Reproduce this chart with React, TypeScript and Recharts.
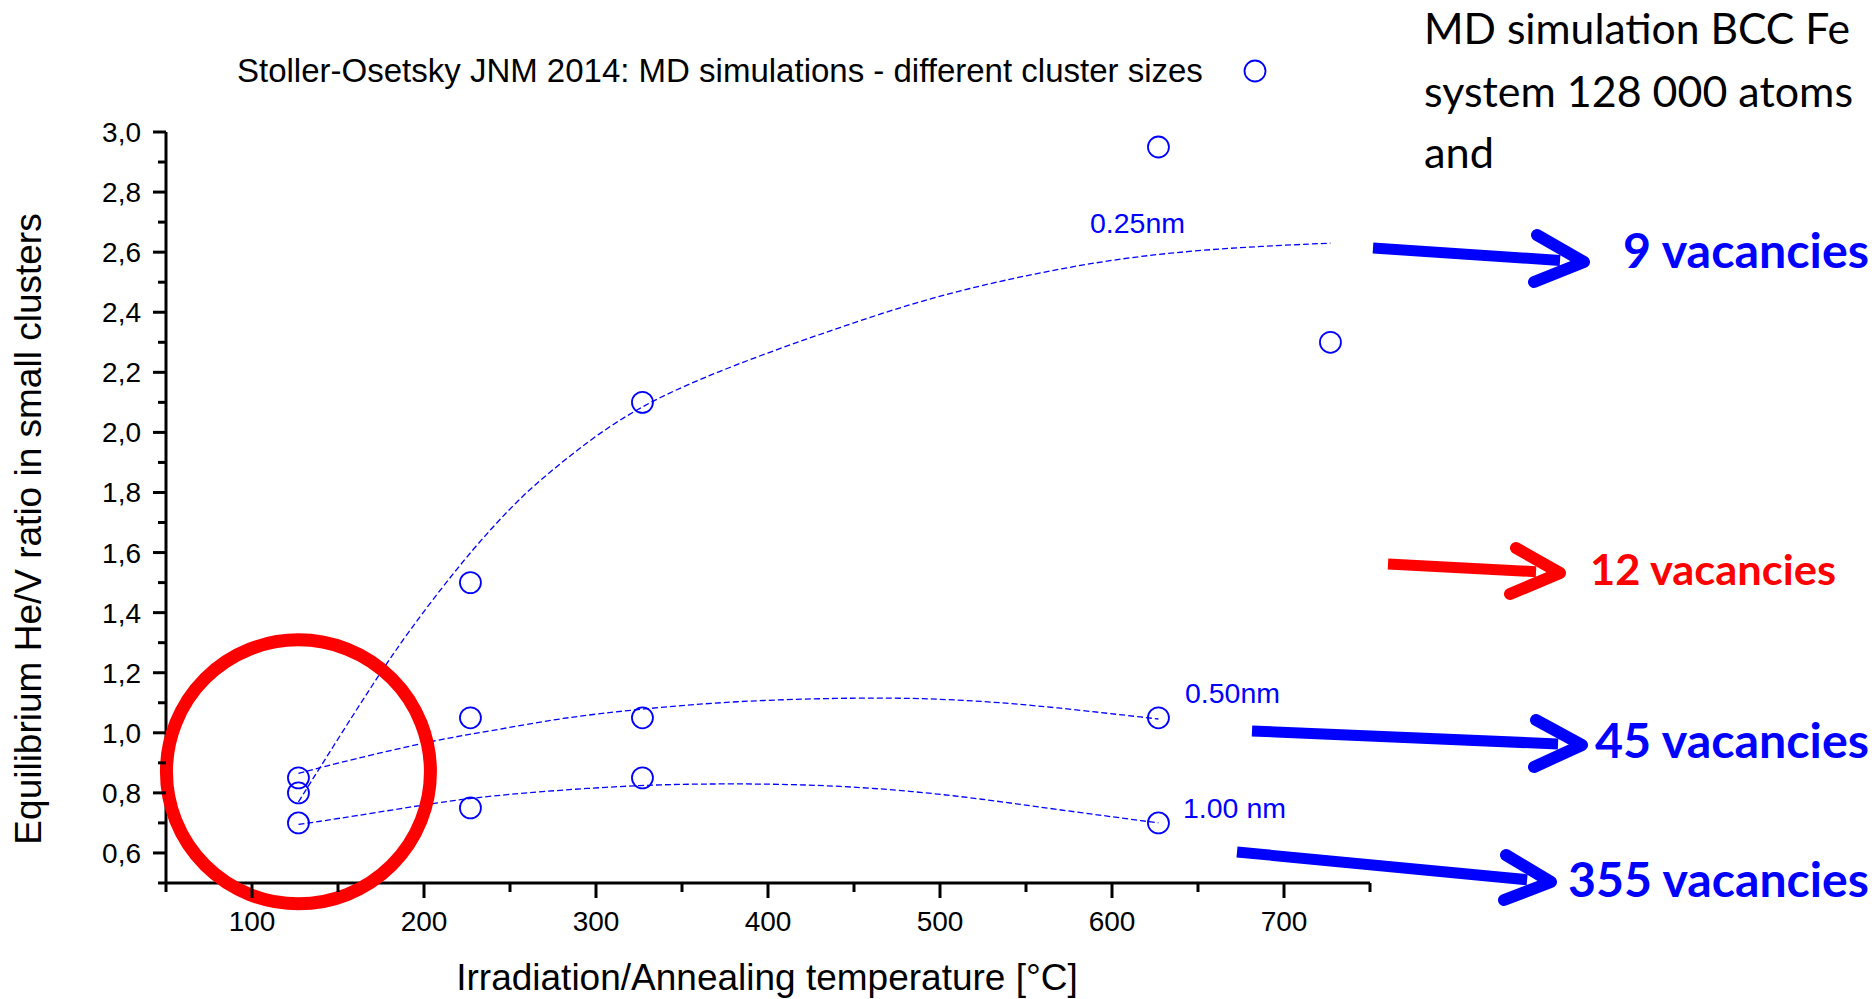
import React from 'react'
import {
  ComposedChart,
  Scatter,
  Line,
  XAxis,
  YAxis,
  ReferenceDot,
} from 'recharts'

// MD points (Stoller-Osetsky JNM 2014)
const tempC = [127, 127, 127, 227, 227, 227, 327, 327, 327, 627, 627, 627, 727]
const heRatio = [0.85, 0.8, 0.7, 1.5, 1.05, 0.75, 2.1, 1.05, 0.85, 2.95, 1.05, 0.7, 2.3]

// fit curves
const fit025X = [127, 150, 170, 190, 218, 239, 259, 280, 300, 327, 361, 402, 442, 484, 524, 565, 606, 647, 687, 727]
const fit025Y = [0.77, 0.98, 1.16, 1.33, 1.54, 1.68, 1.8, 1.9, 1.99, 2.09, 2.18, 2.27, 2.35, 2.43, 2.49, 2.54, 2.58, 2.605, 2.62, 2.63]
const fit050X = [127, 157, 210, 239, 280, 327, 381, 442, 484, 524, 565, 627]
const fit050Y = [0.865, 0.91, 0.98, 1.006, 1.05, 1.08, 1.106, 1.116, 1.116, 1.106, 1.086, 1.046]
const fit100X = [127, 157, 210, 239, 280, 327, 361, 402, 442, 484, 524, 565, 627]
const fit100Y = [0.695, 0.72, 0.77, 0.79, 0.81, 0.826, 0.83, 0.83, 0.823, 0.806, 0.78, 0.747, 0.7]

const xTicks = [50, 100, 150, 200, 250, 300, 350, 400, 450, 500, 550, 600, 650, 700, 750]
const yTicks = [0.5, 0.6, 0.7, 0.8, 0.9, 1.0, 1.1, 1.2, 1.3, 1.4, 1.5, 1.6, 1.7, 1.8, 1.9, 2.0, 2.1, 2.2, 2.3, 2.4, 2.5, 2.6, 2.7, 2.8, 2.9, 3.0]

const BLUE = '#0000FF'
const RED = '#FF0000'
const FONT = '"Liberation Sans", Arial, sans-serif'
const CAL = 'Lato, "Open Sans", sans-serif'

const toRows = (xs: number[], ys: number[]) => xs.map((x, i) => ({ x, y: ys[i] }))

const points = toRows(tempC, heRatio)
const fit025 = toRows(fit025X, fit025Y)
const fit050 = toRows(fit050X, fit050Y)
const fit100 = toRows(fit100X, fit100Y)

const XTick = (props: any) => {
  const { x, y, payload } = props
  const major = payload.value % 100 === 0
  return (
    <g>
      <line x1={x} x2={x} y1={y} y2={y + (major ? 15 : 9)} stroke="#000" strokeWidth={3} />
      {major && (
        <text x={x} y={y + 48} textAnchor="middle" fontFamily={FONT} fontSize={28} fill="#000">
          {payload.value}
        </text>
      )}
    </g>
  )
}

const YTick = (props: any) => {
  const { x, y, payload } = props
  const major = Math.round(payload.value * 10) % 2 === 0
  return (
    <g>
      <line x1={x - (major ? 13 : 8)} x2={x} y1={y} y2={y} stroke="#000" strokeWidth={3} />
      {major && (
        <text x={x - 25} y={y + 10} textAnchor="end" fontFamily={FONT} fontSize={28} fill="#000">
          {payload.value.toFixed(1).replace('.', ',')}
        </text>
      )}
    </g>
  )
}

const Ring = (props: any) => {
  const { cx, cy } = props
  return <circle cx={cx} cy={cy} r={10.5} fill="none" stroke={BLUE} strokeWidth={1.8} />
}

function Arrow({ x1, y1, tx, ty, a1, a2, color }: any) {
  const dx = tx - x1
  const dy = ty - y1
  const len = Math.sqrt(dx * dx + dy * dy)
  const ex = tx - (dx / len) * 24
  const ey = ty - (dy / len) * 24
  return (
    <g>
      <line x1={x1} y1={y1} x2={ex} y2={ey} stroke={color} strokeWidth={11} />
      <polyline
        points={`${a1[0]},${a1[1]} ${tx},${ty} ${a2[0]},${a2[1]}`}
        fill="none"
        stroke={color}
        strokeWidth={12}
        strokeLinecap="round"
        strokeLinejoin="round"
      />
    </g>
  )
}

export default function App() {
  return (
    <div style={{ position: 'relative', width: 1876, height: 999, background: '#fff' }}>
      <style>{'body{margin:0}'}</style>
      <ComposedChart
        width={1876}
        height={999}
        margin={{ top: 132, right: 506, bottom: 36, left: 66 }}
      >
        <XAxis
          dataKey="x"
          type="number"
          domain={[50, 750]}
          ticks={xTicks}
          interval={0}
          allowDataOverflow
          height={80}
          tickSize={0}
          tickMargin={0}
          tickLine={false}
          tick={<XTick />}
          axisLine={{ stroke: '#000', strokeWidth: 3 }}
        />
        <YAxis
          type="number"
          domain={[0.5, 3.0]}
          ticks={yTicks}
          interval={0}
          allowDataOverflow
          width={100}
          tickSize={0}
          tickMargin={0}
          tickLine={false}
          tick={<YTick />}
          axisLine={{ stroke: '#000', strokeWidth: 3 }}
        />
        <Line data={fit025} dataKey="y" type="basis" dot={false} stroke={BLUE} strokeWidth={1.3} strokeDasharray="6 3" isAnimationActive={false} />
        <Line data={fit050} dataKey="y" type="basis" dot={false} stroke={BLUE} strokeWidth={1.3} strokeDasharray="6 3" isAnimationActive={false} />
        <Line data={fit100} dataKey="y" type="basis" dot={false} stroke={BLUE} strokeWidth={1.3} strokeDasharray="6 3" isAnimationActive={false} />
        <Scatter data={points} dataKey="y" shape={<Ring />} isAnimationActive={false} />
        <ReferenceDot x={127} y={0.87} r={132} fill="none" stroke={RED} strokeWidth={13} ifOverflow="visible" />
      </ComposedChart>

      <svg
        width={1876}
        height={999}
        style={{ position: 'absolute', left: 0, top: 0, pointerEvents: 'none' }}
      >
        {/* legend */}
        <text x={237} y={82} fontFamily={FONT} fontSize={33} fill="#000">
          Stoller-Osetsky JNM 2014: MD simulations - different cluster sizes
        </text>
        <circle cx={1255} cy={71} r={10.5} fill="none" stroke={BLUE} strokeWidth={1.8} />

        {/* axis titles */}
        <text x={767} y={990} textAnchor="middle" fontFamily={FONT} fontSize={37} fill="#000">
          Irradiation/Annealing temperature [°C]
        </text>
        <text
          x={41}
          y={529}
          textAnchor="middle"
          transform="rotate(-90, 41, 529)"
          fontFamily={FONT}
          fontSize={37}
          fill="#000"
        >
          Equilibrium He/V ratio in small clusters
        </text>

        {/* curve labels */}
        <text x={1090} y={233} fontFamily={FONT} fontSize={28.5} fill={BLUE}>0.25nm</text>
        <text x={1185} y={703} fontFamily={FONT} fontSize={28.5} fill={BLUE}>0.50nm</text>
        <text x={1183} y={818} fontFamily={FONT} fontSize={28.5} fill={BLUE}>1.00 nm</text>

        {/* note */}
        <text x={1424} y={44} fontFamily={CAL} fontSize={42} fill="#000" textLength={426} lengthAdjust="spacingAndGlyphs">
          MD simulation BCC Fe
        </text>
        <text x={1424} y={107} fontFamily={CAL} fontSize={42} fill="#000" textLength={429} lengthAdjust="spacingAndGlyphs">
          system 128 000 atoms
        </text>
        <text x={1424} y={168} fontFamily={CAL} fontSize={42} fill="#000" textLength={70} lengthAdjust="spacingAndGlyphs">
          and
        </text>

        {/* arrows */}
        <Arrow x1={1373} y1={248} tx={1584} ty={262} a1={[1537, 235]} a2={[1534, 282]} color={BLUE} />
        <Arrow x1={1388} y1={564} tx={1560} ty={573} a1={[1516, 548]} a2={[1510, 594]} color={RED} />
        <Arrow x1={1252} y1={731} tx={1582} ty={745} a1={[1536, 720]} a2={[1534, 767]} color={BLUE} />
        <Arrow x1={1237} y1={852} tx={1551} ty={882} a1={[1506, 855]} a2={[1504, 900]} color={BLUE} />

        {/* vacancy labels */}
        <text x={1623} y={268} fontFamily={CAL} fontWeight={700} fontSize={47} fill={BLUE} textLength={246} lengthAdjust="spacingAndGlyphs">
          9 vacancies
        </text>
        <text x={1590} y={585} fontFamily={CAL} fontWeight={700} fontSize={42} fill={RED} textLength={246} lengthAdjust="spacingAndGlyphs">
          12 vacancies
        </text>
        <text x={1595} y={758} fontFamily={CAL} fontWeight={700} fontSize={47} fill={BLUE} textLength={274} lengthAdjust="spacingAndGlyphs">
          45 vacancies
        </text>
        <text x={1568} y={897} fontFamily={CAL} fontWeight={700} fontSize={47} fill={BLUE} textLength={301} lengthAdjust="spacingAndGlyphs">
          355 vacancies
        </text>
      </svg>
    </div>
  )
}
